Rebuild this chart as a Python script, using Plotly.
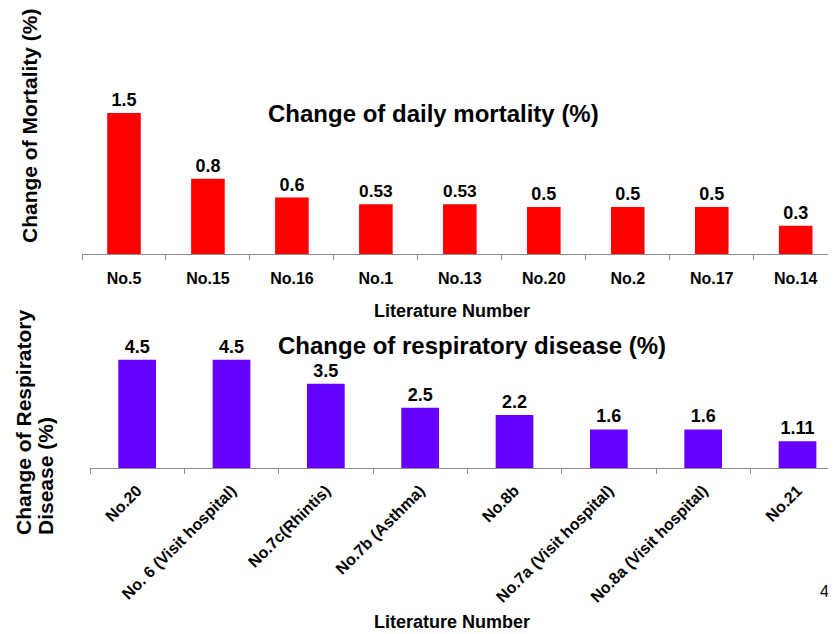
import plotly.graph_objects as go

# ---- data ----
mort_cats = ["No.5", "No.15", "No.16", "No.1", "No.13", "No.20", "No.2", "No.17", "No.14"]
mort_vals = [1.5, 0.8, 0.6, 0.53, 0.53, 0.5, 0.5, 0.5, 0.3]

resp_cats = ["No.20", "No. 6 (Visit hospital)", "No.7c(Rhintis)", "No.7b (Asthma)",
             "No.8b", "No.7a (Visit hospital)", "No.8a (Visit hospital)", "No.21"]
resp_vals = [4.5, 4.5, 3.5, 2.5, 2.2, 1.6, 1.6, 1.11]

OFF = 8  # page body margin
W, H = 836 - OFF, 634 - OFF
FONT = "Liberation Sans, Arial, sans-serif"


def px_x(p):
    return (p - OFF) / W


def px_y(p):
    return 1 - (p - OFF) / H


fig = go.Figure()

fig.add_trace(go.Bar(
    x=mort_cats, y=mort_vals, xaxis="x", yaxis="y",
    marker=dict(color="#FF0000", line=dict(width=0)),
    text=[f"<b>{v:g}</b>" for v in mort_vals], textposition="outside",
    textfont=dict(family=FONT, size=18, color="black"), cliponaxis=False,
))
fig.add_trace(go.Bar(
    x=resp_cats, y=resp_vals, xaxis="x2", yaxis="y2",
    marker=dict(color="#6600FF", line=dict(width=0)),
    text=[f"<b>{v:g}</b>" for v in resp_vals], textposition="outside",
    textfont=dict(family=FONT, size=18, color="black"), cliponaxis=False,
))

axis_common = dict(showgrid=False, zeroline=False, showline=True, linecolor="#8c8c8c",
                   linewidth=1, ticks="outside", ticklen=5, tickcolor="#8c8c8c",
                   tickson="boundaries", tickfont=dict(family=FONT, size=16, color="black"))

top_base = 254
bot_base = 468

fig.update_layout(
    width=W, height=H, margin=dict(l=0, r=0, t=0, b=0),
    paper_bgcolor="white", plot_bgcolor="white", showlegend=False,
    bargap=0.6,
    font=dict(family=FONT, color="black"),
    xaxis=dict(axis_common, domain=[px_x(82), 1], range=[-0.5, 8.48], anchor="y",
               tickangle=0, ticklabelstandoff=10,
               tickvals=mort_cats, ticktext=[f"<b>{c}</b>" for c in mort_cats]),
    yaxis=dict(domain=[px_y(top_base), 1], range=[0, (top_base - OFF) / 94],
               visible=False, anchor="x"),
    xaxis2=dict(axis_common, domain=[px_x(90), 1], range=[-0.5, 7.408], anchor="y2",
                tickangle=-45, ticklabelstandoff=6,
                tickvals=resp_cats, ticktext=[f"<b>{c}</b>" for c in resp_cats]),
    yaxis2=dict(domain=[px_y(bot_base), px_y(300)], range=[0, (bot_base - 300) / 24.07],
                visible=False, anchor="x2"),
)

ann = []
# titles
ann.append(dict(text="<b>Change of daily mortality (%)</b>", x=px_x(434), y=px_y(113),
                font=dict(size=24)))
ann.append(dict(text="<b>Change of respiratory disease (%)</b>", x=px_x(472), y=px_y(345),
                font=dict(size=24)))
# x titles
ann.append(dict(text="<b>Literature Number</b>", x=px_x(452), y=px_y(311), font=dict(size=18)))
ann.append(dict(text="<b>Literature Number</b>", x=px_x(452), y=px_y(622), font=dict(size=18)))
# y titles
ann.append(dict(text="<b>Change of Mortality (%)</b>", x=px_x(29), y=px_y(126),
                textangle=-90, font=dict(size=21)))
ann.append(dict(text="<b>Change of Respiratory</b>", x=px_x(23), y=px_y(537), yanchor="bottom",
                textangle=-90, font=dict(size=21)))
ann.append(dict(text="<b>Disease (%)</b>", x=px_x(45), y=px_y(537), yanchor="bottom",
                textangle=-90, font=dict(size=21)))
# page number
ann.append(dict(text="4", x=px_x(818), y=px_y(591), xanchor="left", font=dict(size=16)))

for a in ann:
    a.setdefault("xanchor", "center")
    a.setdefault("yanchor", "middle")
    a.update(xref="paper", yref="paper", showarrow=False)
    a["font"] = dict(family=FONT, color="black", **a["font"])
fig.update_layout(annotations=ann)

fig.write_html("out.html")
